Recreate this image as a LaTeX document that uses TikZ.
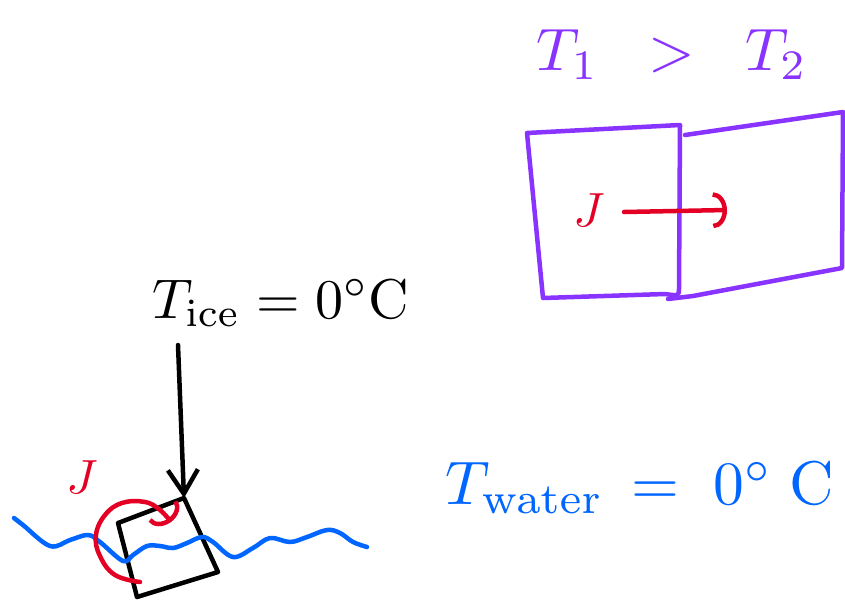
\documentclass[tikz,border=0pt]{standalone}
\usepackage{amsmath}
\usetikzlibrary{arrows.meta}
\definecolor{penpurple}{RGB}{136,51,255}
\definecolor{penred}{RGB}{228,0,36}
\definecolor{penblue}{RGB}{0,102,255}
\begin{document}
\begin{tikzpicture}[x=1pt,y=-1pt,
    pen/.style={line width=4.5pt,line cap=round,line join=round},
    bigtext/.style={scale=5.6,inner sep=0pt},
    jtext/.style={scale=4.8,inner sep=0pt,text=penred}]
\useasboundingbox (0,0) rectangle (845,603);
% two blocks, heat flow from 1 to 2
\node[bigtext,scale=1.07,text=penpurple] (temps) at (672,55) {$T_1\;\;>\;\;T_2$};
\draw[pen,penpurple] (527,133) -- (680,125) -- (679,288) .. controls (679,296) .. (665,294)
    -- (543,298) -- (527,133);
\draw[pen,penpurple] (685,135) -- (843,112) -- (842,268) -- (693,296) -- (668,299);
\node[jtext] (jflow) at (589,210) {$J$};
\coordinate (flowstart) at (624,212);
\coordinate (flowend) at (727,210);
\draw[pen,penred,-{Arc Barb[length=14pt,width=36pt]}] (flowstart) -- (flowend);
% ice cube in water
\node[bigtext] (tice) at (281,303) {$T_{\mathrm{ice}}=0^{\circ}\mathrm{C}$};
\coordinate (stem) at (178,345);
\coordinate (cubetop) at (184,498);
\draw[pen,-{Straight Barb[length=24pt,width=30pt]}] (stem) -- (cubetop);
\draw[pen] (cubetop) -- (218,572) -- (137,597) -- (118,523) -- cycle;
\draw[pen,penblue] plot[smooth,tension=0.6] coordinates {(14,518) (23,525) (50,546) (70,540)
    (88,535) (100,542) (123,561) (133,555) (147,546) (160,546) (173,548) (187,543)
    (202,537) (213,542) (233,557) (253,548) (270,538) (290,542) (307,537) (327,530)
    (340,533) (353,542) (367,547)};
\node[jtext] (jturn) at (82,477) {$J$};
\draw[pen,penred,-{Arc Barb[length=14pt,width=36pt]}] plot[smooth,tension=0.7] coordinates {
    (140,582) (115,575) (100,556) (96,535) (105,515) (122,503) (145,502) (160,510) (171,522)};
\node[bigtext,scale=1.1,text=penblue] (twater) at (640,488)
    {$T_{\mathrm{water}}\,=\;0^{\circ}\;\mathrm{C}$};
\end{tikzpicture}
\end{document}
